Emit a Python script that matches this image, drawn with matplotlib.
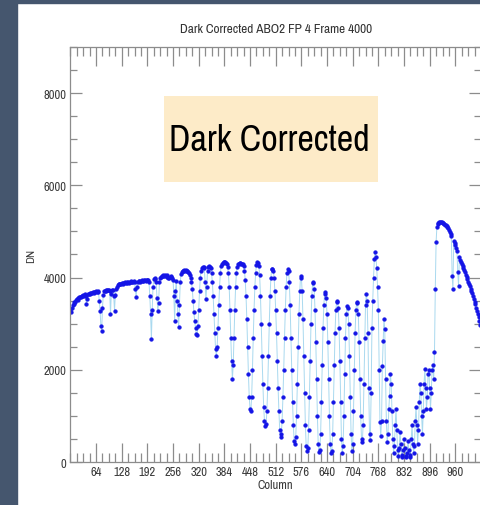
import numpy as np
import matplotlib
matplotlib.use("Agg")
import matplotlib.pyplot as plt
from matplotlib.patches import Rectangle
from matplotlib.ticker import MultipleLocator, FixedLocator

plt.rcParams['font.family'] = ['Liberation Sans Narrow', 'Archivo Narrow', 'Roboto Condensed',
                               'PT Sans Narrow', 'DejaVu Sans']

# column grid (every second detector column)
columns = np.arange(0, 1024, 2)

# DN, split by region
dn_flat = [
    3300, 3260, 3350, 3400, 3430, 3470, 3480, 3510, 3530, 3520, 3560, 3570, 3580, 3570, 3600, 3610,
    3620, 3610, 3640, 3590, 3430, 3540, 3640, 3650, 3660, 3640, 3670, 3660, 3680, 3690, 3670, 3680,
    3700, 3690, 3710, 3680, 3500, 3280, 2950, 2850, 3350, 3620, 3700, 3710, 3720, 3700, 3730, 3720,
    3730, 3700, 3210, 3650, 3720, 3740, 3600, 3280, 3620, 3760, 3800, 3840, 3860, 3850, 3870, 3860,
    3880, 3870, 3890, 3880, 3900, 3890, 3880, 3900, 3910, 3890, 3900, 3910, 3920, 3900, 3910, 3920,
    3900, 3750, 3580, 3800, 3910, 3920, 3930, 3910, 3920, 3940, 3930, 3920, 3940, 3950, 3930, 3940,
    3950, 3940, 3900, 3600, 3200, 2670, 3300, 3800, 3960, 3970, 3980, 3900, 3550, 3280, 3450, 3900,
    4000, 4010, 4030, 4040, 4050, 4040, 4060, 4030, 4050, 4020, 4000, 3980, 4010, 4030, 4020, 4000,
]
dn_fringes = [
    3950, 3600, 3065, 3700, 3930, 3500, 3200, 2930, 3400, 3900, 4080, 4120, 4140, 4150, 4160, 4150,
    4160, 4150, 4140, 4130, 4100, 4060, 4000, 3900, 3750, 3500, 3250, 3050, 2900, 2780, 2760, 2950,
    3300, 3700, 4000, 4150, 4200, 4220, 4230, 4200, 3900, 3535, 3800, 4150, 4230, 4240, 4230, 4200,
    4100, 3900, 3600, 3200, 2800, 2450, 2306, 2500, 2900, 3400, 3800, 4100, 4250, 4300, 4320, 4330,
    4340, 4330, 4320, 4290, 4230, 4100, 3800, 3300, 2700, 2200, 1800, 2100, 2700, 3300, 3800, 4100,
    4230, 4290, 4300, 4310, 4310, 4300, 4300, 4290, 4250, 4150, 3950, 3600, 3100, 2500, 1900, 1410,
    1150, 1113, 1400, 2000, 2700, 3300, 3800, 4100, 4280, 4330, 4320, 4250, 4050, 3600, 3000, 2300,
    1700, 1200, 900, 780, 820, 1100, 1600, 2300, 3000, 3600, 4000, 4180, 4190, 4150, 4000, 3700,
    3300, 2800, 2200, 1600, 1100, 700, 540, 600, 900, 1400, 2000, 2700, 3300, 3800, 4100, 4190,
    4150, 3900, 3400, 2700, 2000, 1300, 800, 450, 390, 550, 1000, 1700, 2500, 3200, 3700, 4040,
    4000, 3700, 3100, 2300, 1500, 800, 350, 240, 300, 700, 1400, 2200, 3000, 3600, 3880, 3900,
    3750, 3300, 2600, 1800, 1000, 400, 220, 260, 600, 1300, 2100, 2900, 3400, 3650, 3680, 3550,
    3200, 2600, 1800, 1000, 400, 200, 230, 600, 1300, 2100, 2800, 3300, 3480, 3500, 3350, 2900,
    2200, 1300, 500, 200, 350, 1000, 1900, 2700, 3200, 3390, 3350, 3000, 2300, 1400, 600, 240,
    400, 1100, 2000, 2800, 3300, 3450, 3460, 3200, 2600, 1800, 1000, 500, 430, 800, 1700, 2700,
    3400, 3640, 3500, 2800, 1600, 600, 480, 1500, 2900, 3500, 4000, 4400, 4550, 4450, 4200, 3800,
]
dn_low = [
    3300, 2000, 870, 560, 900, 2090, 2630, 3100, 2885, 1800, 900, 430, 600, 1150, 1430, 1910,
    1700, 1100, 500, 200, 350, 800, 1150, 700, 250, 130, 300, 650, 400, 150, 100, 250,
    500, 300, 120, 100, 200, 450, 250, 110, 150, 500, 800, 400, 200, 350, 900, 1200,
    800, 400, 700, 1300, 1700, 1500, 1000, 600, 1100, 1700, 2020, 1600, 1150, 1400, 1900, 2000,
]
dn_peak = [
    1600, 1150, 1500, 2000, 2100, 1800, 2385, 3750, 4770, 5100, 5160, 5190, 5200, 5200, 5210, 5200,
    5190, 5180, 5160, 5150, 5130, 5120, 5100, 5070, 5030, 4990, 4950, 4900, 4040, 3750, 4800, 4760,
    4700, 4640, 4580, 4120, 3820, 4440, 4390, 4340, 4290, 4250, 4200, 4160, 4110, 4060, 4010, 3960,
    3910, 3860, 3810, 3760, 3710, 3660, 3600, 3540, 3480, 3420, 3350, 3280, 3210, 3140, 3060, 2980,
]
dn = np.array(dn_flat + dn_fringes + dn_low + dn_peak)
assert len(dn) == len(columns)

x_ticks = [64, 128, 192, 256, 320, 384, 448, 512, 576, 640, 704, 768, 832, 896, 960]
y_ticks = [0, 2000, 4000, 6000, 8000]

title = 'Dark Corrected ABO2 FP 4 Frame 4000'
note = 'Dark Corrected'

fig = plt.figure(figsize=(4.8, 5.06), dpi=100)
# dark slide border, left and top
fig.patches.append(Rectangle((0, 0), 17 / 480, 1, transform=fig.transFigure,
                             color='#45566e', zorder=-1))
fig.patches.append(Rectangle((0, 1 - 4 / 506), 1, 4 / 506, transform=fig.transFigure,
                             color='#45566e', zorder=-1))

ax = fig.add_axes([70.4 / 480, 1 - 463 / 506, 410.6 / 480, 415 / 506])

ax.plot(columns, dn, color='#a9d9ef', lw=0.7, zorder=1)
ax.plot(columns, dn, ls='none', marker='o', ms=2.7, mfc='#1414e6', mec='#1414e6',
        mew=0.3, zorder=2)

ax.set_xlim(0, 1024)
ax.set_ylim(0, 9000)
ax.xaxis.set_major_locator(FixedLocator(x_ticks))
ax.set_xticklabels([str(t) for t in x_ticks])
ax.xaxis.set_minor_locator(MultipleLocator(16))
ax.set_yticks(y_ticks)
ax.yaxis.set_minor_locator(MultipleLocator(500))

grey = '#8c8c8c'
for s in ax.spines.values():
    s.set_color(grey)
    s.set_linewidth(0.9)
ax.tick_params(axis='both', which='both', direction='in', top=True, right=True,
               color=grey, width=0.9, labelcolor='#3a3a3a', labelsize=9)
ax.tick_params(axis='x', which='major', length=14, pad=3)
ax.tick_params(axis='x', which='minor', length=6.5)
ax.tick_params(axis='y', which='major', length=8.5, pad=3)
ax.tick_params(axis='y', which='minor', length=5)

ax.set_xlabel('Column', fontsize=9, color='#3a3a3a', labelpad=1)
ax.set_ylabel('DN', fontsize=8.5, color='#3a3a3a', labelpad=5)
ax.set_title(title, fontsize=9.5, color='#333333', pad=11)

# highlighted note box
ax.add_patch(Rectangle((234, 6070), 534, 1870, facecolor='#fdebc8', edgecolor='none',
                       zorder=3))
ax.text(496, 7000, note, fontsize=26, color='black', ha='center', va='center', zorder=4)

fig.savefig('out.png', dpi=100)
